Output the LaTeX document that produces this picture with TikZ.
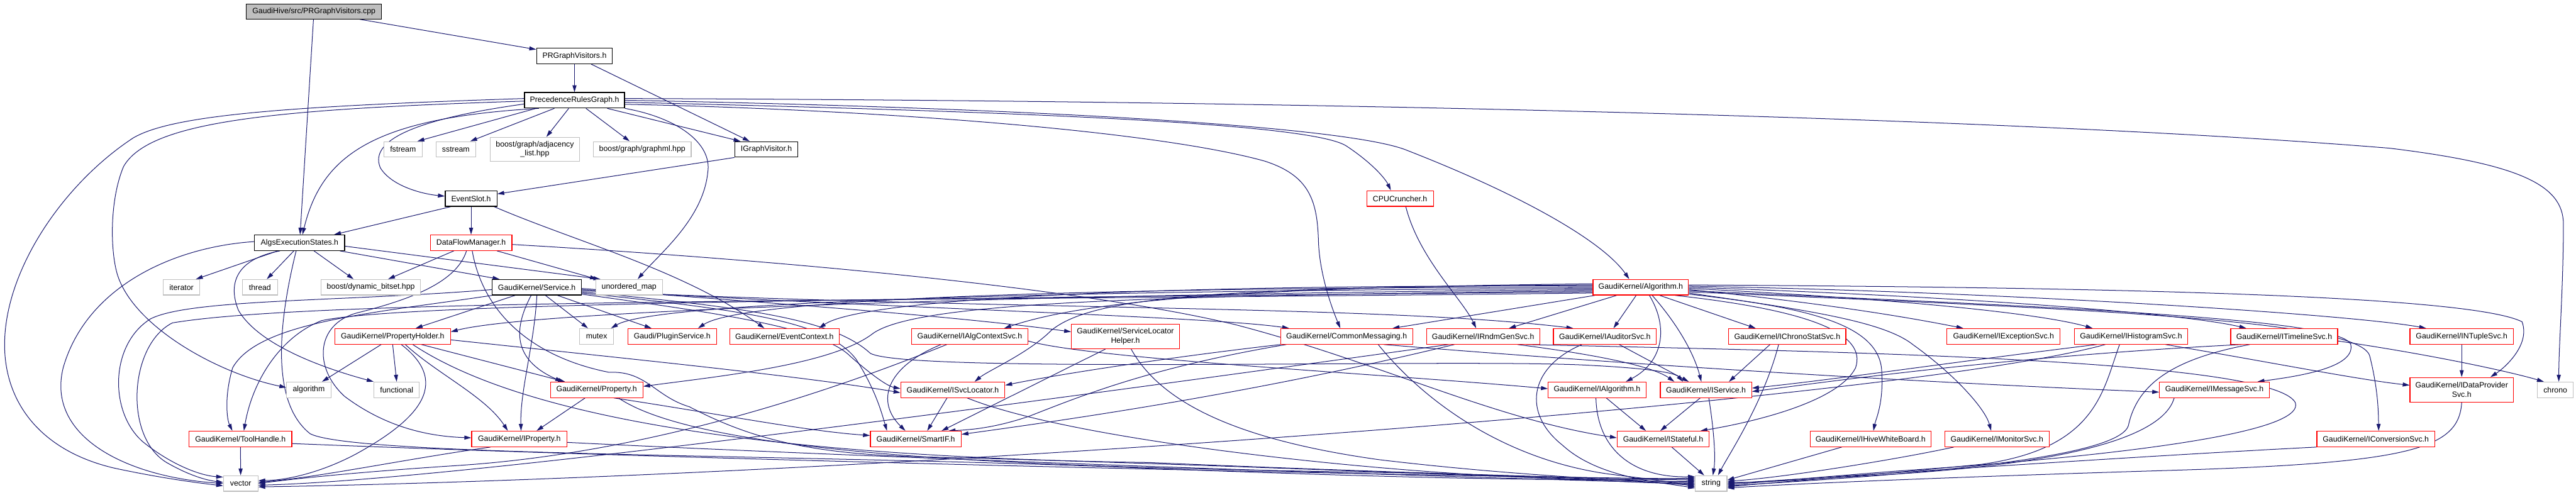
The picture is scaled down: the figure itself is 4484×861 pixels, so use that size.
\documentclass[tikz,border=0pt]{standalone}
\usepackage{fontspec}
\setmainfont{Liberation Sans}
\usetikzlibrary{arrows.meta}
\pgfdeclarelayer{back}
\pgfdeclarelayer{edges}
\pgfsetlayers{back,edges,main}
\definecolor{navy}{HTML}{191970}
\definecolor{gbord}{HTML}{BFBFBF}
\definecolor{rbord}{HTML}{FF0000}
\begin{document}
\begin{tikzpicture}[x=1pt,y=-1pt,
  box/.style={rectangle, draw, line width=1.3pt, inner sep=0pt, minimum height=27pt,
     font=\fontsize{13.5}{16}\selectfont, align=center, fill=white, text=black},
  bnode/.style={box, draw=black},
  rnode/.style={box, draw=rbord},
  gnode/.style={box, draw=gbord},
  dep/.style={draw=navy, line width=1.1pt, -{Triangle[length=12pt,width=7pt]}}]
\begin{pgfonlayer}{back}
\fill[white] (0,0) rectangle (4484,861);
\end{pgfonlayer}
\useasboundingbox (0,0) rectangle (4484,861);
% ---------------- nodes
\node[bnode, fill=gbord, minimum width=235pt, minimum height=26pt] (root) at (546.5,20) {GaudiHive/src/PRGraphVisitors.cpp};
\node[bnode, minimum width=132pt] (prgv) at (1000,97.5) {PRGraphVisitors.h};
\node[bnode, minimum width=174pt] (prg) at (1000,174.5) {PrecedenceRulesGraph.h};
\node[gnode, minimum width=67pt] (fstream) at (701.5,260) {fstream};
\node[gnode, minimum width=69pt] (sstream) at (793.5,260) {sstream};
\node[gnode, minimum width=156pt, minimum height=42pt] (adj) at (931,260) {boost/graph/adjacency\\\_list.hpp};
\node[gnode, minimum width=170pt] (graphml) at (1118,260) {boost/graph/graphml.hpp};
\node[bnode, minimum width=110pt] (igv) at (1334,260) {IGraphVisitor.h};
\node[bnode, minimum width=90pt] (eslot) at (820,345.5) {EventSlot.h};
\node[rnode, minimum width=116pt] (cpu) at (2437,345.5) {CPUCruncher.h};
\node[bnode, minimum width=157pt] (aes) at (521.5,422.5) {AlgsExecutionStates.h};
\node[rnode, minimum width=142pt] (dfm) at (820,422.5) {DataFlowManager.h};
\node[gnode, minimum width=64pt] (iterator) at (316,500) {iterator};
\node[gnode, minimum width=61pt] (thread) at (452.5,500) {thread};
\node[gnode, minimum width=173pt] (dynbit) at (645.5,500) {boost/dynamic\_bitset.hpp};
\node[bnode, minimum width=155pt] (service) at (934.5,500) {GaudiKernel/Service.h};
\node[gnode, minimum width=116pt] (umap) at (1095,500) {unordered\_map};
\node[rnode, minimum width=166pt] (algh) at (2856,500) {GaudiKernel/Algorithm.h};
\node[rnode, minimum width=201pt] (ph) at (683.5,585.5) {GaudiKernel/PropertyHolder.h};
\node[gnode, minimum width=59pt] (mutex) at (1038.5,585.5) {mutex};
\node[rnode, minimum width=154pt] (plugin) at (1170,585.5) {Gaudi/PluginService.h};
\node[rnode, minimum width=191pt] (evctx) at (1365.5,585.5) {GaudiKernel/EventContext.h};
\node[rnode, minimum width=202pt] (ialgctx) at (1688,585.5) {GaudiKernel/IAlgContextSvc.h};
\node[rnode, minimum width=188pt, minimum height=43pt] (slh) at (1959,585.5) {GaudiKernel/ServiceLocator\\Helper.h};
\node[rnode, minimum width=230pt] (commsg) at (2344,585.5) {GaudiKernel/CommonMessaging.h};
\node[rnode, minimum width=197pt] (irndm) at (2581.5,585.5) {GaudiKernel/IRndmGenSvc.h};
\node[rnode, minimum width=179pt] (iaud) at (2793.5,585.5) {GaudiKernel/IAuditorSvc.h};
\node[rnode, minimum width=204pt] (ichrono) at (3111,585.5) {GaudiKernel/IChronoStatSvc.h};
\node[rnode, minimum width=197pt] (iexc) at (3487.5,585.5) {GaudiKernel/IExceptionSvc.h};
\node[rnode, minimum width=197pt] (ihist) at (3709.5,585.5) {GaudiKernel/IHistogramSvc.h};
\node[rnode, minimum width=186pt] (itime) at (3976,585.5) {GaudiKernel/ITimelineSvc.h};
\node[rnode, minimum width=180pt] (intuple) at (4285,585.5) {GaudiKernel/INTupleSvc.h};
\node[gnode, minimum width=77pt] (algorithm) at (537.5,678.5) {algorithm};
\node[gnode, minimum width=79pt] (functional) at (690.5,678.5) {functional};
\node[rnode, minimum width=161pt] (property) at (1038.5,678.5) {GaudiKernel/Property.h};
\node[rnode, minimum width=181pt] (isvcloc) at (1658.5,678.5) {GaudiKernel/ISvcLocator.h};
\node[rnode, minimum width=170pt] (ialg) at (2780,678.5) {GaudiKernel/IAlgorithm.h};
\node[rnode, minimum width=159pt] (iservice) at (2969.5,678.5) {GaudiKernel/IService.h};
\node[rnode, minimum width=191pt] (imsg) at (3854.5,678.5) {GaudiKernel/IMessageSvc.h};
\node[rnode, minimum width=180pt, minimum height=43pt] (idp) at (4285,678.5) {GaudiKernel/IDataProvider\\Svc.h};
\node[gnode, minimum width=62pt] (chrono) at (4448,678.5) {chrono};
\node[rnode, minimum width=179pt] (toolhandle) at (418.5,764) {GaudiKernel/ToolHandle.h};
\node[rnode, minimum width=166pt] (iproperty) at (904,764) {GaudiKernel/IProperty.h};
\node[rnode, minimum width=158pt] (smartif) at (1594,764) {GaudiKernel/SmartIF.h};
\node[rnode, minimum width=160pt] (istateful) at (2895,764) {GaudiKernel/IStateful.h};
\node[rnode, minimum width=210pt] (ihive) at (3256,764) {GaudiKernel/IHiveWhiteBoard.h};
\node[rnode, minimum width=182pt] (imon) at (3476,764) {GaudiKernel/IMonitorSvc.h};
\node[rnode, minimum width=205pt] (iconv) at (4135.5,764) {GaudiKernel/IConversionSvc.h};
\node[gnode, minimum width=60pt] (vector) at (419,841.5) {vector};
\node[gnode, minimum width=55pt] (string) at (2978.5,841.5) {string};
% ---------------- edges
\begin{pgfonlayer}{edges}
% top part
\draw[dep] (root) -- (prgv);
\draw[dep] (root) -- (aes);
\draw[dep] (prgv) -- (prg);
\draw[dep] (prgv) -- (igv);
\draw[dep] ([xshift=-67pt]prg.south) -- ([xshift=25pt]fstream.north);
\draw[dep] ([xshift=-35pt]prg.south) -- ([xshift=25pt]sstream.north);
\draw[dep] ([xshift=-10pt]prg.south) -- ([xshift=20pt]adj.north);
\draw[dep] ([xshift=20pt]prg.south) -- ([xshift=-22pt]graphml.north);
\draw[dep] ([xshift=57pt]prg.south) -- ([xshift=-45pt]igv.north);
\draw[dep] ([yshift=-6.5pt]prg.west) .. controls (740,205) and (640,240) .. (662,292) .. controls (680,322) and (730,337) .. ([yshift=4pt]eslot.west);
\draw[dep] ([xshift=-62pt]prg.south) .. controls (650,205) and (560,270) .. ([xshift=5pt]aes.north);
\draw[dep] ([yshift=3pt]prg.west) .. controls (500,185) and (300,200) .. (232,240) .. controls (110,320) and (8,470) .. (8,600) .. controls (8,700) and (70,785) .. (200,815) .. controls (280,832) and (340,840) .. ([yshift=-4pt]vector.west);
\draw[dep] ([yshift=-1.5pt]prg.west) .. controls (480,190) and (260,210) .. (215,290) .. controls (190,350) and (192,440) .. (205,480) .. controls (235,570) and (380,650) .. ([yshift=4pt]algorithm.west);
\draw[dep] ([yshift=3pt]prg.east) .. controls (2500,176) and (3600,212) .. (4160,258) .. controls (4380,285) and (4462,320) .. (4462,390) .. controls (4462,500) and (4454,600) .. ([xshift=6pt]chrono.north);
\draw[dep] (prg.east) .. controls (1800,188) and (2350,220) .. (2450,262) .. controls (2650,340) and (2790,420) .. ([xshift=-20pt]algh.north);
\draw[dep] ([yshift=-3.5pt]prg.east) .. controls (1800,195) and (2290,215) .. (2345,255) .. controls (2390,285) and (2412,312) .. ([xshift=-16pt]cpu.north);
\draw[dep] ([yshift=-7pt]prg.east) .. controls (1500,190) and (2000,225) .. (2200,280) .. controls (2280,305) and (2293,350) .. (2295,420) .. controls (2297,480) and (2320,540) .. ([xshift=-11pt]commsg.north);
\draw[dep] (prg.south east) .. controls (1180,205) and (1240,250) .. (1232,300) .. controls (1224,380) and (1150,440) .. ([xshift=15pt]umap.north);
\draw[dep] (igv.south west) -- ([yshift=8pt]eslot.east);
\draw[dep] ([xshift=-35pt]eslot.south) -- ([xshift=60pt]aes.north);
\draw[dep] (eslot) -- (dfm);
\draw[dep] ([xshift=40pt]eslot.south) .. controls (1000,420) and (1190,470) .. ([xshift=-35pt]evctx.north);
\draw[dep] ([xshift=10pt]cpu.south) .. controls (2470,450) and (2545,520) .. ([xshift=-12pt]irndm.north);
% AlgsExecutionStates
\draw[dep] ([xshift=-38pt]aes.south) -- ([xshift=25pt]iterator.north);
\draw[dep] ([xshift=-10pt]aes.south) -- ([xshift=12pt]thread.north);
\draw[dep] ([xshift=25pt]aes.south) -- ([xshift=-30pt]dynbit.north);
\draw[dep] ([xshift=70pt]aes.south) -- ([xshift=-65pt]service.north);
\draw[dep] ([yshift=-6pt]aes.east) -- ([xshift=-50pt]umap.north);
\draw[dep] ([yshift=2pt]aes.west) .. controls (300,430) and (150,500) .. (110,640) .. controls (80,760) and (220,830) .. (vector.west);
\draw[dep] ([xshift=-34pt]aes.south) .. controls (415,450) and (395,490) .. (415,540) .. controls (450,600) and (560,640) .. (functional.north west);
\draw[dep] ([xshift=-6pt]aes.south) .. controls (485,560) and (470,700) .. (540,755) .. controls (620,795) and (1400,790) .. (2000,815) .. controls (2500,835) and (2800,838) .. ([yshift=10pt]string.west);
% DataFlowManager
\draw[dep] ([xshift=-30pt]dfm.south) -- ([xshift=30pt]dynbit.north);
\draw[dep] ([xshift=45pt]dfm.south) -- ([xshift=-56pt]umap.north);
\draw[dep] ([xshift=-8pt]dfm.south) .. controls (795,490) and (720,520) .. (620,545) .. controls (550,565) and (545,640) .. (600,690) .. controls (680,750) and (760,760) .. ([yshift=2pt]iproperty.west);
\draw[dep] ([xshift=2pt]dfm.south) .. controls (840,540) and (920,620) .. (1060,648) .. controls (1125,645) and (1140,690) .. (1200,708) .. controls (1300,760) and (1400,790) .. (1600,795) .. controls (2200,810) and (2800,840) .. ([yshift=4pt]string.west);
\draw[dep] ([yshift=-3pt]dfm.east) .. controls (1400,455) and (1900,505) .. (2150,565) .. controls (2400,630) and (2600,730) .. ([yshift=2pt]istateful.west);
% Service
\draw[dep] ([xshift=-38pt]service.south) -- ([xshift=40pt]ph.north);
\draw[dep] ([xshift=15pt]service.south) -- ([xshift=-15pt]mutex.north);
\draw[dep] ([xshift=36pt]service.south) -- ([xshift=-36pt]plugin.north);
\draw[dep] ([xshift=-10pt]service.south) .. controls (895,570) and (890,625) .. ([xshift=-60pt]property.north);
\draw[dep] (service.south) .. controls (930,600) and (905,680) .. ([xshift=3pt]iproperty.north);
\draw[dep] (service.south west) .. controls (650,545) and (450,560) .. (405,640) .. controls (390,690) and (395,730) .. ([xshift=-14pt]toolhandle.north);
\draw[dep] ([yshift=-4pt]service.west) .. controls (600,525) and (330,520) .. (262,555) .. controls (190,600) and (190,720) .. (250,770) .. controls (300,810) and (350,828) .. ([yshift=-3pt]vector.north west);
\draw[dep] ([yshift=-2pt]service.east) .. controls (1300,525) and (1650,548) .. ([yshift=8pt]slh.west);
\draw[dep] ([yshift=-4pt]service.east) .. controls (1500,535) and (2100,550) .. ([xshift=-100pt]commsg.north);
\draw[dep] ([yshift=-6pt]service.east) .. controls (1700,540) and (2400,530) .. ([xshift=-55pt]iaud.north);
\draw[dep] ([yshift=-8pt]service.east) .. controls (1300,535) and (1450,555) .. (1515,615) .. controls (1580,650) and (2500,625) .. (2750,635) .. controls (2860,640) and (2915,648) .. ([xshift=-40pt]iservice.north);
\draw[dep] ([yshift=-10pt]service.east) .. controls (1300,540) and (1440,560) .. (1490,625) .. controls (1525,680) and (1535,720) .. ([xshift=-50pt]smartif.north);
\draw[dep] ([yshift=-12pt]service.east) .. controls (1250,545) and (1430,570) .. (1480,620) .. controls (1520,655) and (1545,672) .. ([yshift=2pt]isvcloc.west);
% Algorithm (left)
\draw[dep] ([yshift=6pt]algh.west) .. controls (2200,500) and (1900,520) .. ([xshift=60pt]ialgctx.north);
\draw[dep] ([yshift=4pt]algh.west) .. controls (2100,500) and (1900,518) .. (1830,575) .. controls (1790,615) and (1720,645) .. ([xshift=38pt]isvcloc.north);
\draw[dep] ([yshift=2pt]algh.west) .. controls (2000,495) and (1500,520) .. ([xshift=60pt]evctx.north);
\draw[dep] (algh.west) .. controls (2000,500) and (1300,515) .. ([xshift=45pt]plugin.north);
\draw[dep] ([yshift=-2pt]algh.west) .. controls (2000,505) and (1150,520) .. ([xshift=25pt]mutex.north);
\draw[dep] ([yshift=-4pt]algh.west) .. controls (2000,510) and (950,535) .. ([yshift=8pt]ph.east);
\draw[dep] ([yshift=-6pt]algh.west) .. controls (2000,515) and (1600,525) .. (1520,580) .. controls (1450,635) and (1250,655) .. ([yshift=6pt]property.east);
\draw[dep] ([yshift=-8pt]algh.west) .. controls (1500,520) and (700,528) .. (560,558) .. controls (490,585) and (440,660) .. ([xshift=6pt]toolhandle.north);
\draw[dep] ([yshift=-10pt]algh.west) .. controls (1500,525) and (550,520) .. (300,562) .. controls (225,600) and (215,760) .. (290,805) .. controls (330,828) and (360,836) .. ([yshift=2pt]vector.west);
% Algorithm (down / right)
\draw[dep] ([xshift=-80pt]algh.south) -- ([xshift=80pt]commsg.north);
\draw[dep] ([xshift=-42pt]algh.south) -- ([xshift=45pt]irndm.north);
\draw[dep] ([xshift=-8pt]algh.south) -- ([xshift=15pt]iaud.north);
\draw[dep] ([xshift=15pt]algh.south) .. controls (2905,570) and (2895,630) .. ([xshift=50pt]ialg.north);
\draw[dep] ([xshift=20pt]algh.south) .. controls (2925,570) and (2950,620) .. ([xshift=-8pt]iservice.north);
\draw[dep] ([xshift=33pt]algh.south) -- ([xshift=-55pt]ichrono.north);
\draw[dep] ([yshift=-4pt]algh.east) .. controls (3150,525) and (3300,548) .. ([xshift=-70pt]iexc.north);
\draw[dep] ([yshift=-2pt]algh.east) .. controls (3300,520) and (3550,545) .. ([xshift=-67pt]ihist.north);
\draw[dep] (algh.east) .. controls (3400,515) and (3800,545) .. ([xshift=-66pt]itime.north);
\draw[dep] ([yshift=2pt]algh.east) .. controls (3500,508) and (4100,548) .. ([xshift=-62pt]intuple.north);
\draw[dep] ([yshift=4pt]algh.east) .. controls (3700,500) and (4300,515) .. (4390,560) .. controls (4405,600) and (4360,640) .. ([xshift=50pt]idp.north);
\draw[dep] ([yshift=-6pt]algh.east) .. controls (3600,535) and (4080,555) .. (4092,600) .. controls (4100,640) and (4000,655) .. ([xshift=75pt]imsg.north);
\draw[dep] ([yshift=-8pt]algh.east) .. controls (3700,540) and (4110,560) .. (4125,620) .. controls (4140,680) and (4140,720) .. ([xshift=5pt]iconv.north);
\draw[dep] ([yshift=-10pt]algh.east) .. controls (3150,540) and (3280,560) .. (3330,600) .. controls (3400,650) and (3455,710) .. ([xshift=-10pt]imon.north);
\draw[dep] ([yshift=-12pt]algh.east) .. controls (3150,535) and (3265,565) .. (3275,640) .. controls (3280,700) and (3265,730) .. ([xshift=5pt]ihive.north);
\draw[dep] ([xshift=60pt]algh.south) .. controls (3150,540) and (3250,580) .. (3230,640) .. controls (3200,700) and (3050,735) .. ([xshift=65pt]istateful.north);
% PropertyHolder
\draw[dep] ([xshift=-20pt]ph.south) -- ([xshift=23pt]algorithm.north);
\draw[dep] (ph.south) -- (functional.north);
\draw[dep] ([xshift=15pt]ph.south) .. controls (790,670) and (720,735) .. (620,790) .. controls (560,822) and (500,836) .. ([yshift=5pt]vector.east);
\draw[dep] ([xshift=50pt]ph.south) -- ([xshift=-55pt]property.north);
\draw[dep] ([xshift=22pt]ph.south) .. controls (760,650) and (845,690) .. ([xshift=-20pt]iproperty.north);
\draw[dep] ([yshift=-6pt]ph.east) .. controls (1100,625) and (1400,655) .. ([yshift=-5pt]isvcloc.west);
\draw[dep] ([xshift=35pt]ph.south) .. controls (900,720) and (1300,795) .. (2000,805) .. controls (2500,826) and (2850,834) .. ([yshift=6pt]string.west);
% Property / IProperty / ToolHandle
\draw[dep] ([xshift=-20pt]property.south) -- ([xshift=30pt]iproperty.north);
\draw[dep] ([xshift=30pt]property.south) .. controls (1250,720) and (1400,750) .. ([yshift=6pt]smartif.west);
\draw[dep] ([xshift=38pt]property.south) .. controls (1250,810) and (2000,815) .. (2500,824) .. controls (2750,832) and (2880,838) .. ([yshift=2pt]string.west);
\draw[dep] ([xshift=-50pt]iproperty.south) .. controls (700,800) and (560,830) .. ([yshift=2pt]vector.east);
\draw[dep] ([yshift=-6pt]iproperty.east) .. controls (1600,800) and (2500,830) .. (string.west);
\draw[dep] (toolhandle) -- (vector);
\draw[dep] ([yshift=-8pt]toolhandle.east) .. controls (1200,800) and (2400,828) .. ([yshift=8pt]string.west);
% IAlgContextSvc / SLH / ISvcLocator
\draw[dep] ([yshift=-8pt]ialgctx.east) .. controls (1900,625) and (2400,650) .. ([yshift=2pt]ialg.west);
\draw[dep] ([xshift=-40pt]ialgctx.south) .. controls (1400,700) and (1100,790) .. (800,810) .. controls (600,823) and (500,835) .. (vector.east);
\draw[dep] ([xshift=-50pt]ialgctx.south) .. controls (1540,640) and (1525,700) .. ([xshift=-18pt]smartif.north);
\draw[dep] ([xshift=-35pt]slh.south) -- ([xshift=45pt]smartif.north);
\draw[dep] ([xshift=10pt]slh.south) .. controls (2020,700) and (2150,765) .. (2400,800) .. controls (2650,830) and (2860,836) .. ([yshift=-4pt]string.west);
\draw[dep] ([xshift=-10pt]isvcloc.south) -- ([xshift=20pt]smartif.north);
\draw[dep] ([xshift=25pt]isvcloc.south) .. controls (1850,760) and (2300,812) .. (2600,828) .. controls (2800,838) and (2880,840) .. ([yshift=-2pt]string.west);
% CommonMessaging
\draw[dep] ([xshift=-105pt]commsg.south) .. controls (2000,640) and (1880,690) .. (1790,725) .. controls (1730,745) and (1690,748) .. ([xshift=57pt]smartif.north);
\draw[dep] ([xshift=-115pt]commsg.south) .. controls (2050,620) and (1850,650) .. ([yshift=8pt]isvcloc.east);
\draw[dep] ([xshift=65pt]commsg.south) .. controls (2900,640) and (3400,668) .. ([yshift=-4pt]imsg.west);
\draw[dep] ([xshift=55pt]commsg.south) .. controls (2480,700) and (2620,800) .. (2800,825) .. controls (2880,835) and (2920,840) .. ([yshift=-6pt]string.west);
% IRndmGenSvc
\draw[dep] ([xshift=-50pt]irndm.south) .. controls (2200,680) and (1900,725) .. ([yshift=8pt]smartif.east);
\draw[dep] ([xshift=60pt]irndm.south) .. controls (2800,620) and (2880,640) .. ([xshift=-55pt]iservice.north);
\draw[dep] ([xshift=-60pt]irndm.south) .. controls (1800,700) and (800,835) .. ([yshift=-3pt]vector.east);
\draw[dep] ([xshift=75pt]irndm.south) .. controls (3200,612) and (3950,625) .. (3995,700) .. controls (4020,760) and (3600,800) .. (3300,820) .. controls (3150,832) and (3060,840) .. ([yshift=-2pt]string.east);
% IAuditorSvc, IAlgorithm, IService, IChronoStatSvc, IStateful
\draw[dep] ([xshift=25pt]iaud.south) -- ([xshift=-30pt]iservice.north);
\draw[dep] ([xshift=-40pt]iaud.south) .. controls (2660,640) and (2650,720) .. (2720,775) .. controls (2780,830) and (2880,838) .. ([yshift=-8pt]string.west);
\draw[dep] ([xshift=16pt]ialg.south) -- ([xshift=-30pt]istateful.north);
\draw[dep] ([xshift=-2pt]ialg.south) .. controls (2780,780) and (2840,832) .. ([yshift=12pt]string.west);
\draw[dep] ([xshift=-10pt]iservice.south) -- ([xshift=-5pt]istateful.north);
\draw[dep] ([xshift=5pt]iservice.south) .. controls (2985,760) and (2986,800) .. ([xshift=3pt]string.north);
\draw[dep] ([xshift=-30pt]ichrono.south) -- ([xshift=40pt]iservice.north);
\draw[dep] ([xshift=-15pt]ichrono.south) .. controls (3070,700) and (3010,790) .. ([xshift=12pt]string.north);
\draw[dep] ([xshift=15pt]istateful.south) -- ([xshift=-12pt]string.north);
% IHistogramSvc, ITimelineSvc, INTupleSvc, IDataProviderSvc
\draw[dep] ([xshift=-60pt]ihist.south) .. controls (3400,630) and (3200,660) .. ([yshift=3pt]iservice.east);
\draw[dep] ([xshift=-45pt]ihist.south) .. controls (3300,700) and (1500,830) .. ([yshift=-6pt]vector.east);
\draw[dep] ([xshift=-20pt]ihist.south) .. controls (3660,680) and (3650,780) .. (3450,808) .. controls (3250,828) and (3080,840) .. ([yshift=-6pt]string.east);
\draw[dep] ([xshift=60pt]ihist.south) .. controls (3950,630) and (4100,660) .. ([yshift=8pt]idp.west);
\draw[dep] ([xshift=-75pt]itime.south) .. controls (3500,620) and (3200,662) .. ([yshift=-3pt]iservice.east);
\draw[dep] ([xshift=-60pt]itime.south) .. controls (3780,625) and (3720,670) .. (3705,740) .. controls (3690,800) and (3300,828) .. ([yshift=-4pt]string.east);
\draw[dep] ([yshift=-8pt]itime.east) .. controls (4250,620) and (4380,650) .. ([xshift=-20pt]chrono.north);
\draw[dep] (intuple) -- (idp);
\draw[dep] (idp.south) .. controls (4280,780) and (4200,805) .. (3800,818) .. controls (3400,830) and (3100,843) .. ([yshift=-8pt]string.east);
% bottom row to string
\draw[dep] ([xshift=-70pt]imsg.south) .. controls (3760,780) and (3500,815) .. (3250,828) .. controls (3120,836) and (3060,840) .. ([yshift=2pt]string.east);
\draw[dep] ([xshift=-50pt]ihive.south) -- ([yshift=6pt]string.east);
\draw[dep] ([xshift=-75pt]imon.south) .. controls (3300,800) and (3100,832) .. ([yshift=4pt]string.east);
\draw[dep] (iconv.south west) .. controls (3700,795) and (3200,830) .. (string.east);
\end{pgfonlayer}
\end{tikzpicture}
\end{document}
